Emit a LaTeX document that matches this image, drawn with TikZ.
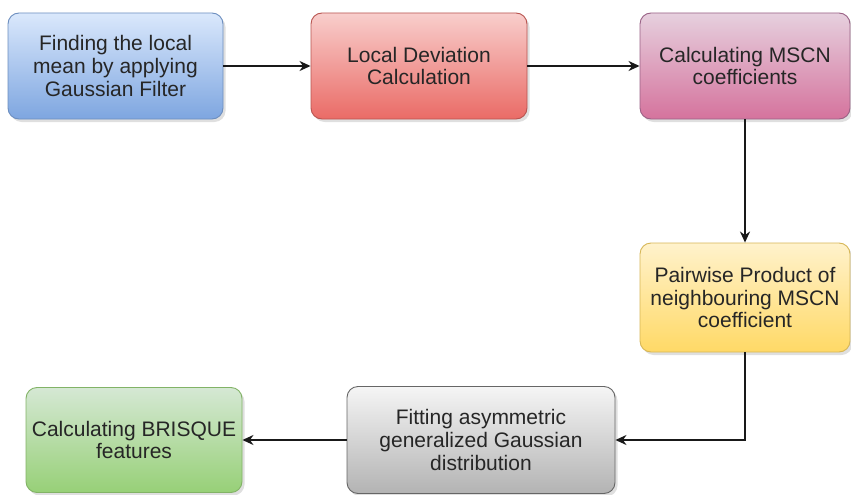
\documentclass[tikz,border=0pt]{standalone}
\usepackage{fontspec}
\setmainfont{Liberation Sans}
\usetikzlibrary{arrows.meta,shadows}

\definecolor{txtgray}{HTML}{262626}

\begin{document}
\begin{tikzpicture}[x=1pt, y=-1pt,
    >={Stealth[length=11pt, width=10pt, inset=3.5pt]},
    stepbox/.style={draw, line width=0.9pt, rounded corners=11pt, align=center,
        inner sep=0pt, text=txtgray,
        font=\fontsize{21}{22.8}\selectfont,
        drop shadow={shadow xshift=2.5pt, shadow yshift=-3pt, opacity=0.25}},
    flow/.style={->, line width=1.6pt, black!90}]

    % CORNICE
    \useasboundingbox (0,0) rectangle (851,495);

    % 1. RIGA ALTA
    \node[stepbox, minimum width=215pt, minimum height=106pt,
          top color={rgb,255:red,218;green,232;blue,252}, bottom color={rgb,255:red,126;green,166;blue,224},
          draw={rgb,255:red,108;green,142;blue,191}]
          (gauss) at (115.5,66) {Finding the local\\mean by applying\\Gaussian Filter};
    \node[stepbox, minimum width=216pt, minimum height=106pt,
          top color={rgb,255:red,248;green,206;blue,204}, bottom color={rgb,255:red,234;green,107;blue,102},
          draw={rgb,255:red,184;green,84;blue,80}]
          (deviation) at (419,66) {Local Deviation\\Calculation};
    \node[stepbox, minimum width=210pt, minimum height=106pt,
          top color={rgb,255:red,230;green,208;blue,222}, bottom color={rgb,255:red,213;green,115;blue,157},
          draw={rgb,255:red,153;green,97;blue,133}]
          (mscn) at (745,66) {Calculating MSCN\\coefficients};

    % 2. DESTRA
    \node[stepbox, minimum width=210pt, minimum height=109pt,
          top color={rgb,255:red,255;green,242;blue,204}, bottom color={rgb,255:red,255;green,217;blue,102},
          draw={rgb,255:red,214;green,182;blue,86}]
          (pairwise) at (745,297.5) {Pairwise Product of\\neighbouring MSCN\\coefficient};

    % 3. RIGA BASSA
    \node[stepbox, minimum width=268pt, minimum height=107pt,
          top color={rgb,255:red,245;green,245;blue,245}, bottom color={rgb,255:red,179;green,179;blue,179},
          draw={rgb,255:red,102;green,102;blue,102}]
          (fitting) at (481,440) {Fitting asymmetric\\generalized Gaussian\\distribution};
    \node[stepbox, minimum width=216pt, minimum height=105pt,
          top color={rgb,255:red,213;green,232;blue,212}, bottom color={rgb,255:red,151;green,208;blue,119},
          draw={rgb,255:red,130;green,179;blue,102}]
          (brisque) at (134,440) {Calculating BRISQUE\\features};

    % 4. FRECCE
    \draw[flow] (gauss) -- (deviation);
    \draw[flow] (deviation) -- (mscn);
    \draw[flow] (mscn) -- (pairwise);
    \draw[flow] (pairwise.south) |- (fitting.east);
    \draw[flow] (fitting) -- (brisque);

\end{tikzpicture}
\end{document}
